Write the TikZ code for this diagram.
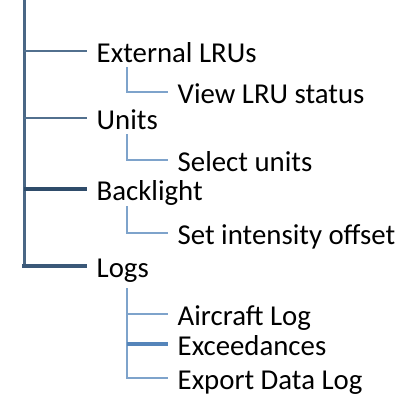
\documentclass[tikz,border=0pt]{standalone}
\usepackage{fontspec}
\setmainfont{Carlito}
\definecolor{trunkc}{HTML}{4A6785}
\definecolor{branchc}{HTML}{52708E}
\definecolor{darkc}{HTML}{2F4C6A}
\definecolor{logsc}{HTML}{3A5878}
\definecolor{subc}{HTML}{7EA3CB}
\definecolor{subdark}{HTML}{5585BA}
\tikzset{
  item/.style={anchor=west, inner xsep=9.5pt, inner ysep=0pt, text height=23pt, text depth=0pt,
    font=\fontsize{28.8}{34}\selectfont, text=black},
  trunkline/.style={draw=trunkc, line width=3pt},
  branchline/.style={draw=branchc, line width=2.8pt},
  darkline/.style={draw=darkc, line width=3.4pt},
  logsline/.style={draw=logsc, line width=3.4pt},
  subline/.style={draw=subc, line width=2.6pt},
  subdarkline/.style={draw=subdark, line width=3.2pt},
}
\begin{document}
\begin{tikzpicture}[x=1pt, y=-1pt]
\useasboundingbox (0,0) rectangle (401,400);
% main items
\node[item] (ext) at (87,51) {External LRUs};
\node[item] (units) at (87,118) {Units};
\node[item] (back) at (87,189) {Backlight};
\node[item] (logs) at (87,266) {Logs};
% sub items
\node[item] (view) at (168,92) {View LRU status};
\node[item] (select) at (168,160) {Select units};
\node[item] (setint) at (168,233) {Set intensity offset};
\node[item] (air) at (168,314) {Aircraft Log};
\node[item] (exc) at (168,344) {Exceedances};
\node[item] (exp) at (168,378) {Export Data Log};
% coordinates
\coordinate (trunk) at (24,0);
\coordinate (extsub) at (127,67);
\coordinate (unitsub) at (127,134);
\coordinate (backsub) at (127,206);
\coordinate (logsub) at (127,288);
% trunk and branches
\draw[trunkline] (trunk) -- (trunk |- logs.west);
\draw[branchline] (trunk |- ext.west) -- (ext.west);
\draw[branchline] (trunk |- units.west) -- (units.west);
\draw[darkline] (trunk |- back.west) -- (back.west);
\draw[logsline, line join=miter] ([yshift=-1.5pt]trunk |- logs.west) |- (logs.west);
% sub branches
\draw[subline] (extsub) |- (view.west);
\draw[subline] (unitsub) |- (select.west);
\draw[subline] (backsub) |- (setint.west);
\draw[subline] (logsub) |- (exp.west);
\draw[subline] (logsub |- air.west) -- (air.west);
\draw[subdarkline] (logsub |- exc.west) -- (exc.west);
\end{tikzpicture}
\end{document}
